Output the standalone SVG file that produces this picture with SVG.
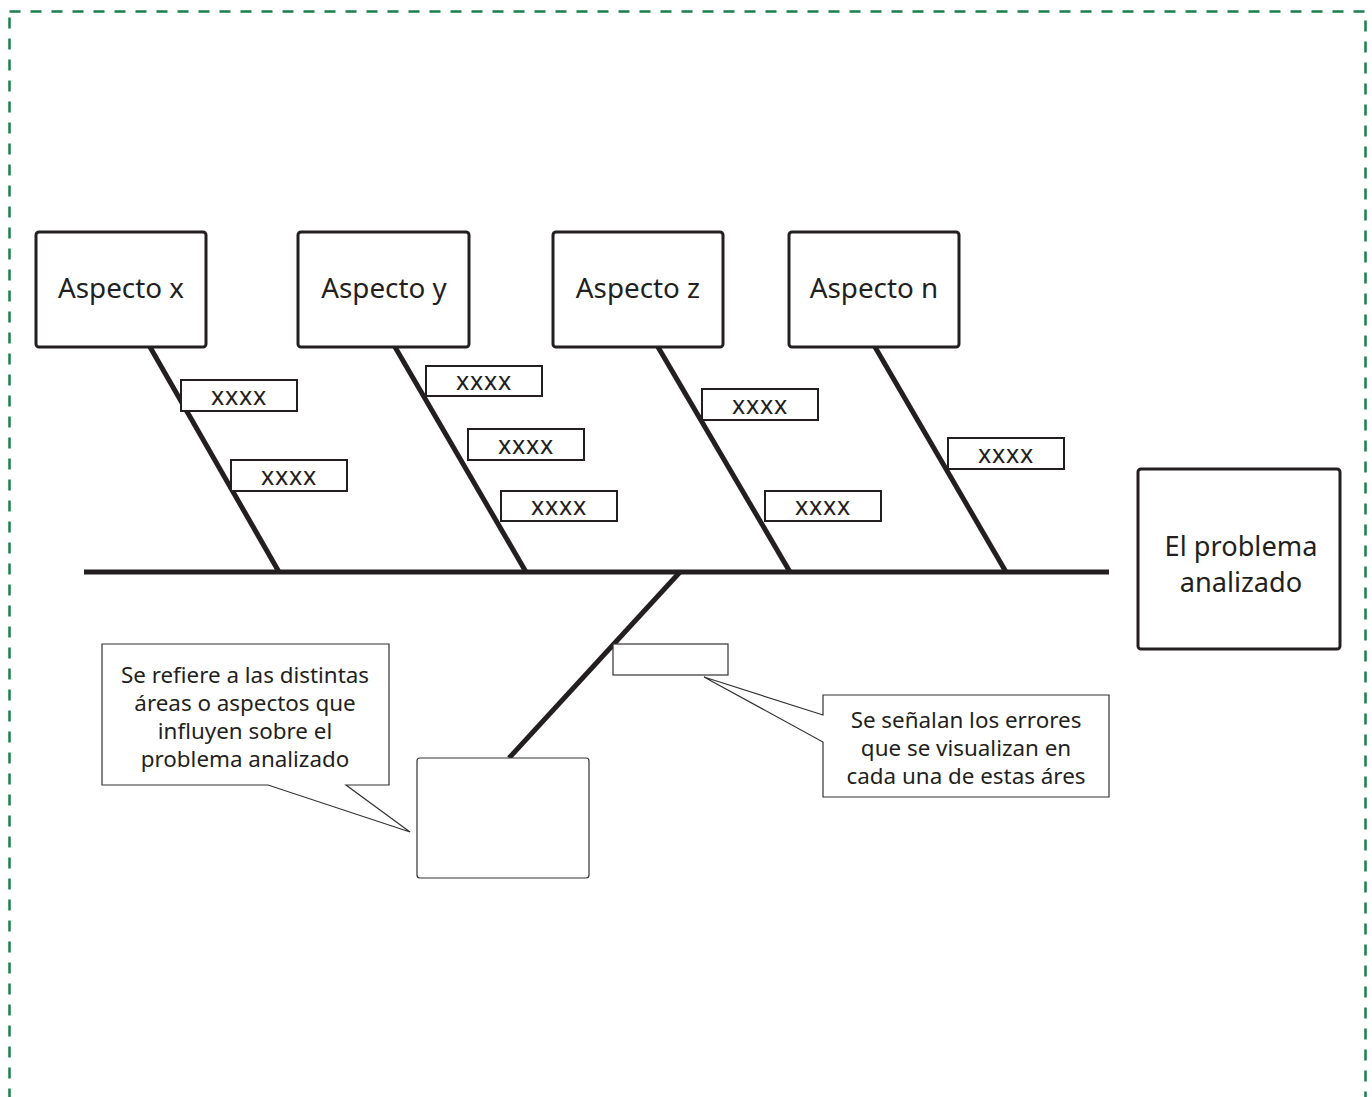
<svg xmlns="http://www.w3.org/2000/svg" width="1372" height="1097" viewBox="0 0 1372 1097">
<style>
text{font-family:"Noto Sans","Open Sans",sans-serif;fill:#231f20;text-anchor:middle}
.big{font-size:27.8px}
.prob{font-size:27.2px}
.mid{font-size:22.4px}
.xx{font-size:25px;letter-spacing:0.8px}
.aspect{fill:#fff;stroke:#231f20;stroke-width:3}
.xbox{fill:#fff;stroke:#231f20;stroke-width:2}
.call{fill:#fff;stroke:#333;stroke-width:1.2}
.bone{stroke:#231f20;stroke-width:5;fill:none}
</style>
<rect x="9.5" y="11.5" width="1356" height="1120" fill="none" stroke="#1a7f4b" stroke-width="2.5" stroke-dasharray="11 10"/>
<g id="connectors">
<line class="bone" x1="84" y1="572" x2="1109" y2="572"/>
<line class="bone" x1="150" y1="347" x2="279" y2="572"/>
<line class="bone" x1="395" y1="347" x2="526" y2="572"/>
<line class="bone" x1="658" y1="347" x2="790" y2="572"/>
<line class="bone" x1="875" y1="347" x2="1006" y2="572"/>
<line class="bone" x1="680" y1="572" x2="509" y2="758"/>
</g>
<g id="aspecto-x"><rect class="aspect" x="36" y="232" width="170" height="115" rx="3"/><text class="big" x="121" y="298">Aspecto x</text></g>
<g id="aspecto-y"><rect class="aspect" x="298" y="232" width="171" height="115" rx="3"/><text class="big" x="384" y="298">Aspecto y</text></g>
<g id="aspecto-z"><rect class="aspect" x="553" y="232" width="170" height="115" rx="3"/><text class="big" x="638" y="298">Aspecto z</text></g>
<g id="aspecto-n"><rect class="aspect" x="789" y="232" width="170" height="115" rx="3"/><text class="big" x="874" y="298">Aspecto n</text></g>
<g id="problema"><rect class="aspect" x="1138" y="469" width="202" height="180" rx="3"/><text class="prob" x="1241" y="556">El problema</text><text class="prob" x="1241" y="592">analizado</text></g>
<g id="x1"><rect class="xbox" x="181" y="380" width="116" height="31"/><text class="xx" x="239" y="405">xxxx</text></g>
<g id="x2"><rect class="xbox" x="231" y="460" width="116" height="31"/><text class="xx" x="289" y="485">xxxx</text></g>
<g id="y1"><rect class="xbox" x="426" y="366" width="116" height="30"/><text class="xx" x="484" y="390">xxxx</text></g>
<g id="y2"><rect class="xbox" x="468" y="429" width="116" height="31"/><text class="xx" x="526" y="454">xxxx</text></g>
<g id="y3"><rect class="xbox" x="501" y="491" width="116" height="30"/><text class="xx" x="559" y="515">xxxx</text></g>
<g id="z1"><rect class="xbox" x="702" y="389" width="116" height="31"/><text class="xx" x="760" y="414">xxxx</text></g>
<g id="z2"><rect class="xbox" x="765" y="491" width="116" height="30"/><text class="xx" x="823" y="515">xxxx</text></g>
<g id="n1"><rect class="xbox" x="948" y="438" width="116" height="31"/><text class="xx" x="1006" y="463">xxxx</text></g>
<g id="empty-small"><rect class="call" x="613" y="644" width="115" height="31"/></g>
<g id="empty-big"><rect class="call" x="417" y="758" width="172" height="120" rx="3"/></g>
<g id="callout-1">
<path class="call" d="M268,785 L102,785 L102,644 L389,644 L389,785 L346,785 L410,832 Z"/>
<text class="mid" x="245" y="683">Se refiere a las distintas</text>
<text class="mid" x="245" y="711">áreas o aspectos que</text>
<text class="mid" x="245" y="739">influyen sobre el</text>
<text class="mid" x="245" y="767">problema analizado</text>
</g>
<g id="callout-2">
<path class="call" d="M823,715 L823,695 L1109,695 L1109,797 L823,797 L823,742 L704,677 Z"/>
<text class="mid" x="966" y="728">Se señalan los errores</text>
<text class="mid" x="966" y="756">que se visualizan en</text>
<text class="mid" x="966" y="784">cada una de estas áres</text>
</g>
</svg>
